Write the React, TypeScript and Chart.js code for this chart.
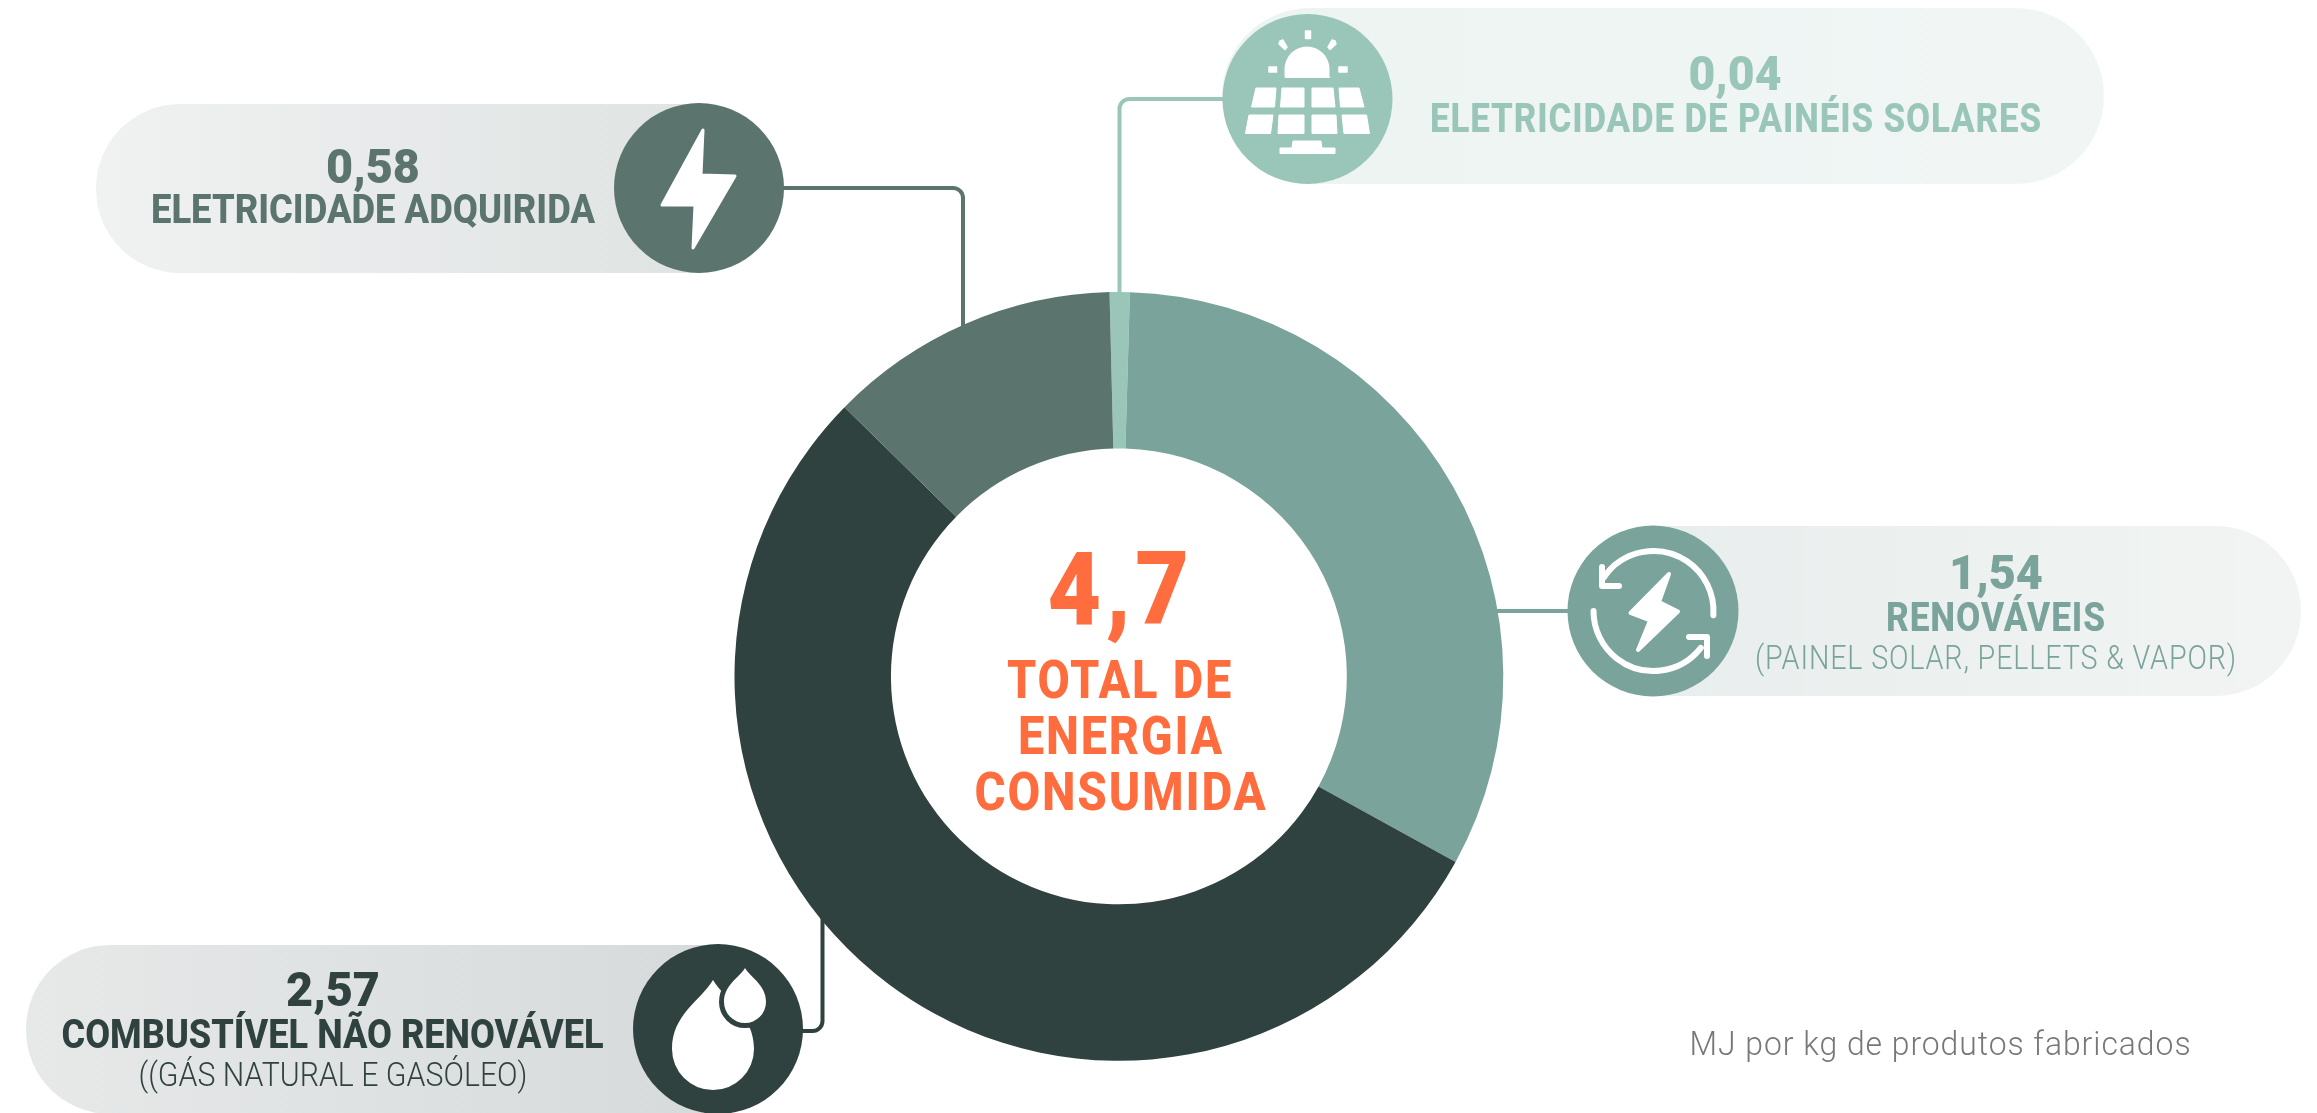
import React, { useEffect, useRef } from "react";
import { Chart, registerables } from "chart.js";

Chart.register(...registerables);

const categories = ["Eletricidade de painéis solares", "Renováveis", "Combustível não renovável", "Eletricidade adquirida"];
const values = [0.04, 1.54, 2.57, 0.58];
const sliceColors = ["#9AC5B9", "#7AA39C", "#30423F", "#5B746E"];
const totalLabel = "4,7";
const totalLines = ["TOTAL DE", "ENERGIA", "CONSUMIDA"];
const valueLabels = ["0,04", "1,54", "2,57", "0,58"];
const nameLabels = ["ELETRICIDADE DE PAINÉIS SOLARES", "RENOVÁVEIS", "COMBUSTÍVEL NÃO RENOVÁVEL", "ELETRICIDADE ADQUIRIDA"];
const subLabels = ["", "(PAINEL SOLAR, PELLETS & VAPOR)", "((GÁS NATURAL E GASÓLEO)", ""];
const unitLabel = "MJ por kg de produtos fabricados";

const ORANGE = "#FF6D3F";
const FONT = "Roboto, sans-serif";
type Ctx = CanvasRenderingContext2D;

function fit(ctx: Ctx, text: string, cx: number, y: number, font: string, width: number, color: string, spacing = 0) {
  ctx.save();
  ctx.font = font;
  ctx.fillStyle = color;
  ctx.textAlign = "center";
  ctx.textBaseline = "alphabetic";
  (ctx as any).letterSpacing = `${spacing}px`;
  const m = ctx.measureText(text).width;
  ctx.translate(cx, y);
  ctx.scale(width / m, 1);
  ctx.fillText(text, 0, 0);
  ctx.restore();
}

function pill(ctx: Ctx, x0: number, x1: number, y0: number, y1: number, c0: string, c1: string, radii: number[]) {
  const g = ctx.createLinearGradient(x0, 0, x1, 0);
  g.addColorStop(0, c0);
  g.addColorStop(1, c1);
  ctx.fillStyle = g;
  ctx.beginPath();
  ctx.roundRect(x0, y0, x1 - x0, y1 - y0, radii);
  ctx.fill();
}

function disc(ctx: Ctx, x: number, y: number, r: number, c: string) {
  ctx.fillStyle = c;
  ctx.beginPath();
  ctx.arc(x, y, r, 0, Math.PI * 2);
  ctx.fill();
}

function connector(ctx: Ctx, pts: number[][], c: string) {
  ctx.strokeStyle = c;
  ctx.lineWidth = 4;
  ctx.lineJoin = "round";
  ctx.beginPath();
  ctx.moveTo(pts[0][0], pts[0][1]);
  ctx.arcTo(pts[1][0], pts[1][1], pts[2][0], pts[2][1], 10);
  ctx.lineTo(pts[2][0], pts[2][1]);
  ctx.stroke();
}

function poly(ctx: Ctx, pts: number[][], join = 2) {
  ctx.save();
  ctx.fillStyle = "#fff";
  ctx.strokeStyle = "#fff";
  ctx.lineWidth = join;
  ctx.lineJoin = "round";
  ctx.beginPath();
  pts.forEach((p, i) => (i ? ctx.lineTo(p[0], p[1]) : ctx.moveTo(p[0], p[1])));
  ctx.closePath();
  ctx.fill();
  if (join > 0) ctx.stroke();
  ctx.restore();
}

function boltIcon(ctx: Ctx) {
  poly(ctx, [[703, 130], [701, 175], [735, 176], [693, 248], [695, 205], [662, 205]], 3);
}

function solarIcon(ctx: Ctx) {
  ctx.fillStyle = "#fff";
  ctx.beginPath();
  ctx.arc(1307, 69, 22.5, Math.PI, 0);
  ctx.lineTo(1329.5, 76);
  ctx.lineTo(1330, 78);
  ctx.lineTo(1285, 78);
  ctx.lineTo(1284.5, 76);
  ctx.closePath();
  ctx.fill();
  poly(ctx, [[1305.5, 31], [1310.5, 31], [1310.5, 38.5], [1305.5, 38.5]], 1.5);
  poly(ctx, [[1280, 41], [1283, 40], [1287, 47], [1285, 49.5], [1279, 44]], 1.5);
  poly(ctx, [[1335, 41], [1332, 40], [1328, 47], [1330, 49.5], [1336, 44]], 1.5);
  poly(ctx, [[1269, 67], [1276.5, 67], [1276.5, 72], [1269, 72]], 1.5);
  poly(ctx, [[1339, 67], [1347, 67], [1347, 72], [1339, 72]], 1.5);
  const cells = [
    [[1256, 88], [1276, 88], [1274.5, 107], [1251.5, 107]],
    [[1282, 88], [1304, 88], [1304, 107], [1280.5, 107]],
    [[1312, 88], [1333, 88], [1335, 107], [1312, 107]],
    [[1339, 88], [1359, 88], [1364, 107], [1340.5, 107]],
    [[1249, 115], [1273, 115], [1270.5, 133.5], [1245.5, 133.5]],
    [[1279, 115], [1304, 115], [1304, 133.5], [1278, 133.5]],
    [[1312, 115], [1336, 115], [1337, 133.5], [1312, 133.5]],
    [[1342, 115], [1366.5, 115], [1369.5, 133.5], [1344, 133.5]],
  ];
  cells.forEach((c) => poly(ctx, c, 1));
  poly(ctx, [[1293, 141], [1321, 141], [1322, 148], [1335, 148], [1335, 153.5], [1280, 153.5], [1280, 148], [1292, 148]], 1);
}

function dropPath(ctx: Ctx, cx: number, tip: number, cy: number, r: number) {
  const h = cy - tip;
  ctx.beginPath();
  ctx.moveTo(cx, tip);
  ctx.bezierCurveTo(cx + 0.3 * r, tip + 0.3 * h, cx + r, cy - 0.5 * h, cx + r, cy);
  ctx.arc(cx, cy, r, 0, Math.PI);
  ctx.bezierCurveTo(cx - r, cy - 0.5 * h, cx - 0.3 * r, tip + 0.3 * h, cx, tip);
  ctx.closePath();
}

function dropsIcon(ctx: Ctx) {
  ctx.fillStyle = "#fff";
  dropPath(ctx, 713, 980, 1049, 41);
  ctx.fill();
  dropPath(ctx, 745, 968, 1002, 21);
  ctx.strokeStyle = "#30423F";
  ctx.lineWidth = 10;
  ctx.stroke();
  ctx.fill();
}

function cycleIcon(ctx: Ctx) {
  const d = Math.PI / 180;
  ctx.save();
  ctx.strokeStyle = "#fff";
  ctx.lineWidth = 6;
  ctx.lineCap = "round";
  ctx.lineJoin = "round";
  ctx.beginPath();
  ctx.arc(1653.5, 611, 60, 214 * d, 364 * d);
  ctx.stroke();
  ctx.beginPath();
  ctx.arc(1653.5, 611, 60, 38 * d, 180 * d);
  ctx.stroke();
  ctx.beginPath();
  ctx.moveTo(1602, 567);
  ctx.lineTo(1602, 586);
  ctx.lineTo(1619, 586);
  ctx.stroke();
  ctx.beginPath();
  ctx.moveTo(1689, 637);
  ctx.lineTo(1707, 637);
  ctx.lineTo(1707, 656);
  ctx.stroke();
  ctx.restore();
  poly(ctx, [[1669, 574], [1630.5, 613], [1650, 620.5], [1638, 650], [1678, 611.5], [1659, 602]], 4);
}

const overlay = {
  id: "infographic",
  beforeDatasetsDraw(chart: Chart) {
    const ctx = chart.ctx as Ctx;
    ctx.save();
    pill(ctx, 1222, 2104, 8, 184, "#ECF4F1", "#F1F6F5", [88, 88, 88, 88]);
    pill(ctx, 96, 699, 104, 273, "#F0F2F2", "#DFE3E2", [84, 0, 0, 84]);
    pill(ctx, 26, 718, 945, 1114, "#E7E9E9", "#D6DADA", [84, 0, 0, 84]);
    pill(ctx, 1653, 2301, 526, 696, "#E8EEED", "#F1F4F3", [0, 85, 85, 0]);
    connector(ctx, [[1225, 99], [1119.5, 99], [1119.5, 300]], sliceColors[0]);
    connector(ctx, [[1570, 611], [1570, 611], [1490, 611]], sliceColors[1]);
    connector(ctx, [[780, 188], [963, 188], [963, 330]], sliceColors[3]);
    connector(ctx, [[800, 1031], [822.5, 1031], [822.5, 915]], sliceColors[2]);
    disc(ctx, 1307.5, 99, 85, sliceColors[0]);
    disc(ctx, 1653, 611, 85.5, sliceColors[1]);
    disc(ctx, 699, 188, 85, sliceColors[3]);
    disc(ctx, 718, 1029, 85, sliceColors[2]);
    boltIcon(ctx);
    solarIcon(ctx);
    cycleIcon(ctx);
    dropsIcon(ctx);
    ctx.restore();
  },
  afterDraw(chart: Chart) {
    const ctx = chart.ctx as Ctx;
    const b = `900 49px ${FONT}`;
    const l = (s: number) => `800 ${s}px ${FONT}`;
    const t = `300 34px ${FONT}`;
    fit(ctx, valueLabels[0], 1735, 90, b, 93, sliceColors[0]);
    fit(ctx, nameLabels[0], 1736, 132, l(40), 612, sliceColors[0], 1);
    fit(ctx, valueLabels[1], 1996, 589, b, 94, sliceColors[1]);
    fit(ctx, nameLabels[1], 1996, 631, l(40), 220, sliceColors[1], 1);
    fit(ctx, subLabels[1], 1996, 669, t, 482, sliceColors[1], 1);
    fit(ctx, valueLabels[2], 333, 1006, b, 94, sliceColors[2]);
    fit(ctx, nameLabels[2], 332.5, 1048, l(40), 542, sliceColors[2]);
    fit(ctx, subLabels[2], 333, 1086, t, 389, sliceColors[2]);
    fit(ctx, valueLabels[3], 373, 183, b, 94, sliceColors[3]);
    fit(ctx, nameLabels[3], 373, 223, l(40), 444, sliceColors[3]);
    fit(ctx, totalLabel, 1120.5, 624, `900 102px ${FONT}`, 146, ORANGE, 5);
    fit(ctx, totalLines[0], 1120, 698, l(53), 226, ORANGE, 2);
    fit(ctx, totalLines[1], 1121, 754, l(53), 206, ORANGE, 2);
    fit(ctx, totalLines[2], 1121, 810, l(53), 293, ORANGE, 2);
    fit(ctx, unitLabel, 1940.5, 1055, `300 33px ${FONT}`, 502, "#777777", 1);
  },
};

export default function App() {
  const ref = useRef<HTMLCanvasElement>(null);
  useEffect(() => {
    const chart = new Chart(ref.current!, {
      type: "doughnut",
      data: {
        labels: categories,
        datasets: [{ data: values, backgroundColor: sliceColors, borderWidth: 0 }],
      },
      options: {
        animation: false,
        responsive: false,
        rotation: -1.4,
        cutout: "59.3%",
        layout: { padding: { left: 734.5, right: 813.7, top: 292, bottom: 52.2 } },
        plugins: { legend: { display: false }, tooltip: { enabled: false }, title: { display: false } },
      },
      plugins: [overlay],
    });
    return () => chart.destroy();
  }, []);
  return (
    <canvas
      ref={ref}
      width={2317}
      height={1113}
      style={{ position: "absolute", left: 0, top: 0, display: "block", background: "#fff" }}
    />
  );
}
